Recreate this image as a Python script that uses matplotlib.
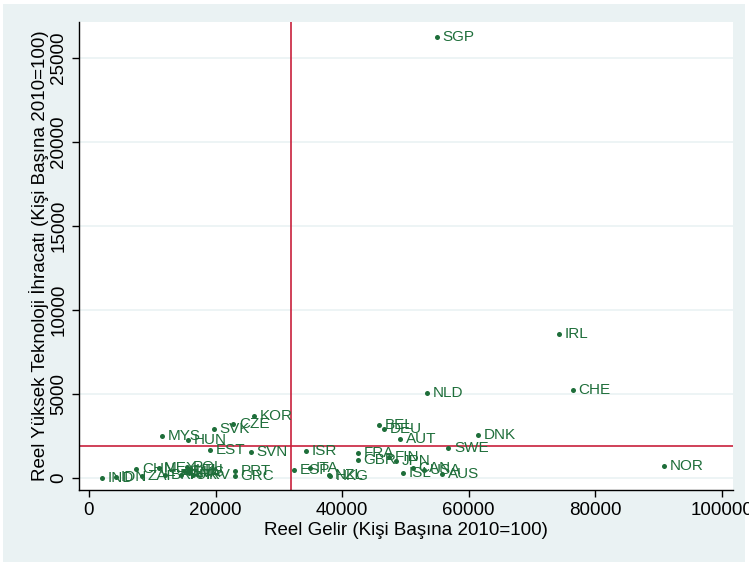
import numpy as np
import matplotlib
matplotlib.use("Agg")
import matplotlib.pyplot as plt
from matplotlib.patches import Rectangle

# ulke kodlari, reel gelir ve reel yuksek teknoloji ihracati (kisi basina)
ulkeler = ["SGP", "IRL", "CHE", "NLD", "NOR", "KOR", "CZE", "SVK", "MYS", "HUN",
           "EST", "SVN", "ISR", "BEL", "DEU", "AUT", "DNK", "SWE", "FRA", "GBR",
           "FIN", "JPN", "ISL", "CAN", "USA", "AUS", "ESP", "ITA", "NZL", "HKG",
           "PRT", "GRC", "IND", "IDN", "CHN", "ZAF", "MEX", "BRA", "TUR", "RUS",
           "POL", "LTU", "LVA", "HRV", "CHL"]
gelir = [55000, 74300, 76500, 53400, 90900, 26100, 22800, 19800, 11500, 15700,
         19100, 25600, 34300, 45850, 46650, 49200, 61500, 56800, 42500, 42500,
         47400, 48500, 49600, 51200, 53000, 55800, 32400, 34900, 37900, 38100,
         23100, 23100, 2000, 4200, 7500, 8300, 11000, 12000, 14500, 15500,
         15500, 16000, 15800, 16500, 15000]
ihracat = [26250, 8570, 5240, 5060, 710, 3690, 3210, 2920, 2500, 2260,
           1670, 1550, 1610, 3155, 2920, 2320, 2560, 1790, 1490, 1070,
           1250, 1010, 300, 600, 480, 240, 480, 600, 180, 120,
           420, 120, 20, 40, 520, 120, 620, 150, 200, 330,
           650, 500, 300, 200, 400]

# esik degerleri (kirmizi cizgiler)
gelir_esik = 31950
ihracat_esik = 1905

yesil = "#1e6e3a"
kirmizi = "#c8203c"
arka = "#eaf2f3"

plt.rcParams['font.family'] = ['Liberation Sans', 'DejaVu Sans']

fig = plt.figure(figsize=(7.49, 5.65), dpi=100)
fig.patches.append(Rectangle((3/749, 3/565), 742/749, 558/565, transform=fig.transFigure,
                             facecolor=arka, edgecolor="none", zorder=-10))
ax = fig.add_axes([79/749, 1-490/565, 654/749, 468/565])
ax.set_facecolor("white")

ax.scatter(gelir, ihracat, s=13, color=yesil, zorder=3, linewidths=0)
for ad, x, y in zip(ulkeler, gelir, ihracat):
    ax.annotate(ad, (x, y), xytext=(4, 0), textcoords="offset points",
                va="center", ha="left", fontsize=11, color=yesil, zorder=4)

ax.axvline(gelir_esik, color=kirmizi, lw=1.2, zorder=2)
ax.axhline(ihracat_esik, color=kirmizi, lw=1.2, zorder=2)

ax.set_xlim(-1580, 101800)
ax.set_ylim(-714, 27140)
ax.set_xticks(np.arange(0, 100001, 20000))
ax.set_yticks(np.arange(0, 25001, 5000))
ax.set_yticklabels([str(v) for v in range(0, 25001, 5000)], rotation=90, va="center")
ax.grid(axis="y", color=arka, lw=1.2, zorder=0)
ax.grid(axis="x", visible=False)
ax.tick_params(labelsize=13.5, length=5, width=1, colors="black")

for s in ["top", "right"]:
    ax.spines[s].set_visible(False)
for s in ["left", "bottom"]:
    ax.spines[s].set_linewidth(1)

ax.set_xlabel("Reel Gelir (Kişi Başına 2010=100)", fontsize=13.5, labelpad=2)
ax.set_ylabel("Reel Yüksek Teknoloji İhracatı (Kişi Başına 2010=100)", fontsize=13.5, labelpad=1)

fig.savefig("out.png", dpi=100)
